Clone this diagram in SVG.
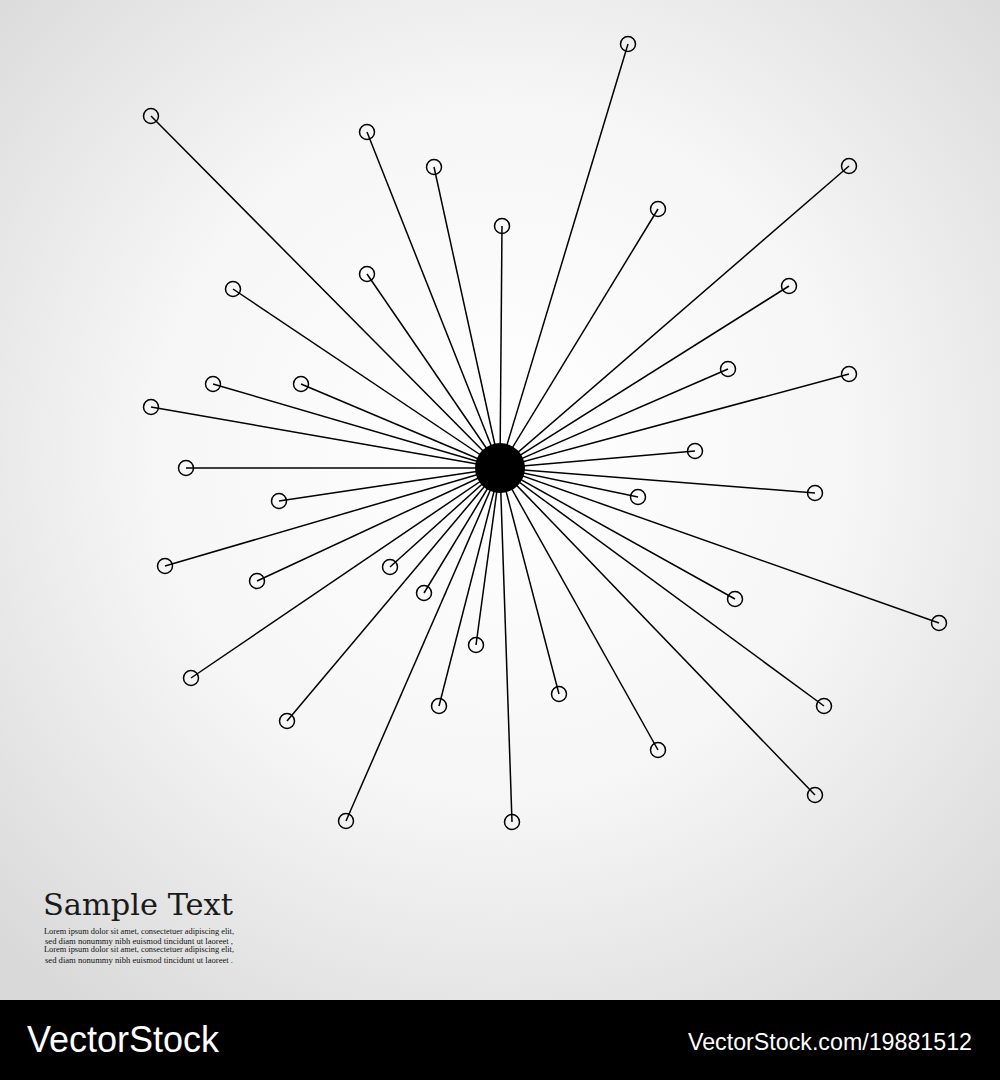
<svg xmlns="http://www.w3.org/2000/svg" width="1000" height="1080" viewBox="0 0 1000 1080">
<defs>
<radialGradient id="bg" cx="500" cy="450" r="700" gradientUnits="userSpaceOnUse">
<stop offset="0" stop-color="#ffffff"/>
<stop offset="0.5" stop-color="#f6f6f6"/>
<stop offset="1" stop-color="#d9d9d9"/>
</radialGradient>
<style>
.ray{stroke:#000;stroke-width:1.5;fill:none}
.end{fill:none;stroke:#000;stroke-width:1.5}
.title{font-family:"DejaVu Serif","Liberation Serif",serif;font-size:29px;fill:#1a1a1a}
.lorem{font-family:"Liberation Serif",serif;font-size:8px;fill:#111}
.wm{font-family:"Liberation Sans",Arial,sans-serif;fill:#fff}
</style>
</defs>
<rect width="1000" height="1000" fill="url(#bg)"/>
<g id="connectors">
<line class="ray" x1="500" y1="468" x2="628" y2="44"/>
<line class="ray" x1="500" y1="468" x2="151" y2="116"/>
<line class="ray" x1="500" y1="468" x2="367" y2="132"/>
<line class="ray" x1="500" y1="468" x2="434" y2="167"/>
<line class="ray" x1="500" y1="468" x2="849" y2="166"/>
<line class="ray" x1="500" y1="468" x2="658" y2="209"/>
<line class="ray" x1="500" y1="468" x2="502" y2="226"/>
<line class="ray" x1="500" y1="468" x2="233" y2="289"/>
<line class="ray" x1="500" y1="468" x2="789" y2="286"/>
<line class="ray" x1="500" y1="468" x2="367" y2="274"/>
<line class="ray" x1="500" y1="468" x2="728" y2="369"/>
<line class="ray" x1="500" y1="468" x2="849" y2="374"/>
<line class="ray" x1="500" y1="468" x2="213" y2="384"/>
<line class="ray" x1="500" y1="468" x2="301" y2="384"/>
<line class="ray" x1="500" y1="468" x2="151" y2="407"/>
<line class="ray" x1="500" y1="468" x2="695" y2="451"/>
<line class="ray" x1="500" y1="468" x2="186" y2="468"/>
<line class="ray" x1="500" y1="468" x2="815" y2="493"/>
<line class="ray" x1="500" y1="468" x2="279" y2="501"/>
<line class="ray" x1="500" y1="468" x2="638" y2="497"/>
<line class="ray" x1="500" y1="468" x2="165" y2="566"/>
<line class="ray" x1="500" y1="468" x2="257" y2="581"/>
<line class="ray" x1="500" y1="468" x2="390" y2="567"/>
<line class="ray" x1="500" y1="468" x2="424" y2="593"/>
<line class="ray" x1="500" y1="468" x2="735" y2="599"/>
<line class="ray" x1="500" y1="468" x2="939" y2="623"/>
<line class="ray" x1="500" y1="468" x2="476" y2="645"/>
<line class="ray" x1="500" y1="468" x2="191" y2="678"/>
<line class="ray" x1="500" y1="468" x2="559" y2="694"/>
<line class="ray" x1="500" y1="468" x2="439" y2="706"/>
<line class="ray" x1="500" y1="468" x2="824" y2="706"/>
<line class="ray" x1="500" y1="468" x2="287" y2="721"/>
<line class="ray" x1="500" y1="468" x2="658" y2="750"/>
<line class="ray" x1="500" y1="468" x2="815" y2="795"/>
<line class="ray" x1="500" y1="468" x2="346" y2="821"/>
<line class="ray" x1="500" y1="468" x2="512" y2="822"/>
</g>
<g id="hub"><circle cx="500" cy="468" r="25" fill="#000"/></g>
<g id="n1"><circle class="end" cx="628" cy="44" r="7.5"/></g>
<g id="n2"><circle class="end" cx="151" cy="116" r="7.5"/></g>
<g id="n3"><circle class="end" cx="367" cy="132" r="7.5"/></g>
<g id="n4"><circle class="end" cx="434" cy="167" r="7.5"/></g>
<g id="n5"><circle class="end" cx="849" cy="166" r="7.5"/></g>
<g id="n6"><circle class="end" cx="658" cy="209" r="7.5"/></g>
<g id="n7"><circle class="end" cx="502" cy="226" r="7.5"/></g>
<g id="n8"><circle class="end" cx="233" cy="289" r="7.5"/></g>
<g id="n9"><circle class="end" cx="789" cy="286" r="7.5"/></g>
<g id="n10"><circle class="end" cx="367" cy="274" r="7.5"/></g>
<g id="n11"><circle class="end" cx="728" cy="369" r="7.5"/></g>
<g id="n12"><circle class="end" cx="849" cy="374" r="7.5"/></g>
<g id="n13"><circle class="end" cx="213" cy="384" r="7.5"/></g>
<g id="n14"><circle class="end" cx="301" cy="384" r="7.5"/></g>
<g id="n15"><circle class="end" cx="151" cy="407" r="7.5"/></g>
<g id="n16"><circle class="end" cx="695" cy="451" r="7.5"/></g>
<g id="n17"><circle class="end" cx="186" cy="468" r="7.5"/></g>
<g id="n18"><circle class="end" cx="815" cy="493" r="7.5"/></g>
<g id="n19"><circle class="end" cx="279" cy="501" r="7.5"/></g>
<g id="n20"><circle class="end" cx="638" cy="497" r="7.5"/></g>
<g id="n21"><circle class="end" cx="165" cy="566" r="7.5"/></g>
<g id="n22"><circle class="end" cx="257" cy="581" r="7.5"/></g>
<g id="n23"><circle class="end" cx="390" cy="567" r="7.5"/></g>
<g id="n24"><circle class="end" cx="424" cy="593" r="7.5"/></g>
<g id="n25"><circle class="end" cx="735" cy="599" r="7.5"/></g>
<g id="n26"><circle class="end" cx="939" cy="623" r="7.5"/></g>
<g id="n27"><circle class="end" cx="476" cy="645" r="7.5"/></g>
<g id="n28"><circle class="end" cx="191" cy="678" r="7.5"/></g>
<g id="n29"><circle class="end" cx="559" cy="694" r="7.5"/></g>
<g id="n30"><circle class="end" cx="439" cy="706" r="7.5"/></g>
<g id="n31"><circle class="end" cx="824" cy="706" r="7.5"/></g>
<g id="n32"><circle class="end" cx="287" cy="721" r="7.5"/></g>
<g id="n33"><circle class="end" cx="658" cy="750" r="7.5"/></g>
<g id="n34"><circle class="end" cx="815" cy="795" r="7.5"/></g>
<g id="n35"><circle class="end" cx="346" cy="821" r="7.5"/></g>
<g id="n36"><circle class="end" cx="512" cy="822" r="7.5"/></g>
<g id="caption">
<text class="title" x="43" y="915" textLength="190" lengthAdjust="spacingAndGlyphs">Sample Text</text>
<text class="lorem" x="44" y="934" textLength="190" lengthAdjust="spacingAndGlyphs">Lorem ipsum dolor sit amet, consectetuer adipiscing elit,</text>
<text class="lorem" x="45" y="944" textLength="188" lengthAdjust="spacingAndGlyphs">sed diam nonummy nibh euismod tincidunt ut laoreet ,</text>
<text class="lorem" x="44" y="952" textLength="190" lengthAdjust="spacingAndGlyphs">Lorem ipsum dolor sit amet, consectetuer adipiscing elit,</text>
<text class="lorem" x="45" y="963" textLength="188" lengthAdjust="spacingAndGlyphs">sed diam nonummy nibh euismod tincidunt ut laoreet .</text>
</g>
<g id="banner">
<rect x="0" y="1000" width="1000" height="80" fill="#000"/>
<text class="wm" x="27" y="1052" font-size="36" textLength="192" lengthAdjust="spacingAndGlyphs">VectorStock</text>
<text class="wm" x="688" y="1050" font-size="24" textLength="284" lengthAdjust="spacingAndGlyphs">VectorStock.com/19881512</text>
</g>
</svg>
